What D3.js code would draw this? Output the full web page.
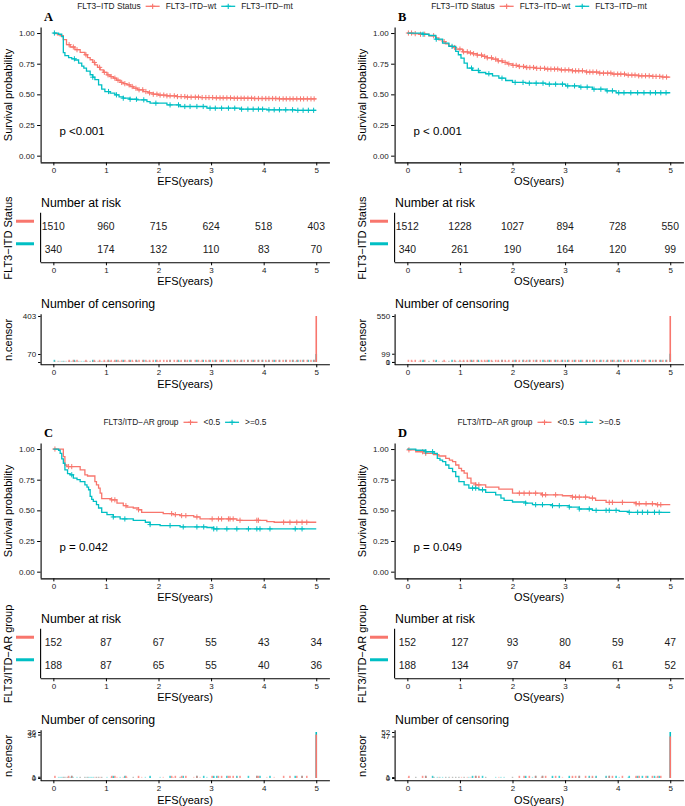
<!DOCTYPE html>
<html><head><meta charset="utf-8">
<script src="https://cdn.jsdelivr.net/npm/d3@7"></script>
<style>
body{margin:0;background:#fff}
text{font-family:"Liberation Sans",Arial,sans-serif}
</style>
</head><body>
<svg id="chart" width="685" height="806"></svg>
<script>
// ---------------- DATA ----------------
const years = [0, 1, 2, 3, 4, 5];
const survTicks = [0, 0.25, 0.5, 0.75, 1];
const groupColors = ["#F8766D", "#00BFC4"];

// Panel A : EFS by FLT3-ITD status
const efsWtTimes = [0.03,0.08,0.13,0.19,0.25,0.32,0.41,0.51,0.6,0.65,0.7,0.75,0.79,0.84,0.89,0.95,1.02,1.08,1.14,1.2,1.27,1.33,1.40,1.46,1.52,1.6,1.71,1.8,1.90,2.0,2.16,2.35,2.54,2.8,3.05,3.4,3.81,4.3];
const efsWtSurv  = [0.995,0.985,0.978,0.946,0.905,0.886,0.864,0.842,0.823,0.80,0.782,0.76,0.741,0.72,0.70,0.68,0.659,0.645,0.632,0.615,0.597,0.587,0.578,0.564,0.55,0.537,0.523,0.512,0.501,0.494,0.488,0.482,0.477,0.474,0.471,0.468,0.466,0.463];
const efsMtTimes = [0.1,0.16,0.19,0.22,0.29,0.35,0.41,0.48,0.54,0.58,0.63,0.70,0.75,0.79,0.86,0.92,0.98,1.08,1.17,1.25,1.33,1.45,1.59,1.78,1.84,2.16,2.41,2.92,3.55,4.06,4.6];
const efsMtSurv  = [0.99,0.97,0.84,0.815,0.80,0.79,0.78,0.755,0.73,0.714,0.69,0.66,0.64,0.62,0.578,0.542,0.523,0.51,0.496,0.48,0.469,0.46,0.455,0.441,0.428,0.414,0.401,0.387,0.379,0.374,0.370];
const efsWtCensor = [0.3,0.38,0.45,0.62,0.78,0.88,0.97,1.04,1.1,1.17,1.23,1.3,1.36,1.44,1.5,1.57,1.63,1.7,1.76,1.83,1.9,1.97,2.03,2.1,2.16,2.22,2.3,2.36,2.43,2.5,2.55,2.62,2.7,2.76,2.83,2.9,2.96,3.03,3.1,3.17,3.23,3.3,3.37,3.44,3.5,3.57,3.63,3.7,3.77,3.83,3.9,3.97,4.04,4.1,4.17,4.23,4.3,4.37,4.43,4.5,4.56,4.63,4.7,4.76,4.83,4.9,4.96];
const efsMtCensor = [0.02,0.4,0.75,1.05,1.2,1.33,1.46,1.58,1.72,1.95,2.22,2.38,2.5,2.6,2.73,2.85,2.98,3.08,3.2,3.33,3.45,3.58,3.7,3.8,3.9,3.98,4.1,4.2,4.3,4.42,4.55,4.65,4.75,4.85,4.95];
const efsWtRisk = [1510, 960, 715, 624, 518, 403];
const efsMtRisk = [340, 174, 132, 110, 83, 70];
const efsItdCensorTicks = [0, 70, 403];

// Panel B : OS by FLT3-ITD status
const osWtTimes = [0.1,0.22,0.41,0.54,0.6,0.67,0.73,0.79,0.86,0.92,1.05,1.15,1.24,1.33,1.43,1.52,1.62,1.72,1.81,1.9,2.0,2.12,2.25,2.45,2.63,2.9,3.14,3.4,3.65,3.9,4.16,4.4,4.66,4.85];
const osWtSurv  = [0.995,0.99,0.978,0.96,0.945,0.93,0.912,0.896,0.882,0.869,0.847,0.838,0.831,0.82,0.809,0.798,0.787,0.773,0.76,0.748,0.736,0.727,0.719,0.712,0.706,0.699,0.692,0.682,0.673,0.665,0.657,0.651,0.646,0.641];
const osMtTimes = [0.29,0.41,0.54,0.67,0.79,0.92,0.97,1.02,1.08,1.14,1.24,1.36,1.49,1.62,1.74,1.87,2.0,2.25,2.63,3.01,3.27,3.52,3.78,3.97];
const osMtSurv  = [0.99,0.98,0.95,0.918,0.891,0.85,0.823,0.796,0.755,0.714,0.695,0.678,0.668,0.651,0.632,0.613,0.597,0.591,0.583,0.569,0.559,0.542,0.529,0.513];
const osWtCensor = [0.02,0.08,0.15,0.25,0.33,0.5,0.7,0.9,1.0,1.07,1.14,1.2,1.26,1.33,1.41,1.47,1.52,1.6,1.68,1.73,1.8,1.86,1.93,2.01,2.07,2.13,2.21,2.27,2.33,2.4,2.46,2.53,2.61,2.67,2.73,2.8,2.86,2.93,3.0,3.07,3.14,3.2,3.26,3.33,3.41,3.47,3.53,3.6,3.66,3.73,3.81,3.87,3.93,4.0,4.06,4.13,4.2,4.27,4.33,4.4,4.46,4.53,4.6,4.67,4.73,4.8,4.86,4.93];
const osMtCensor = [0.3,0.55,0.85,1.22,1.35,1.55,1.8,2.05,2.2,2.32,2.45,2.58,2.7,2.82,2.95,3.05,3.18,3.3,3.42,3.55,3.68,3.8,3.9,4.02,4.12,4.25,4.38,4.5,4.62,4.72,4.82,4.92];
const osWtRisk = [1512, 1228, 1027, 894, 728, 550];
const osMtRisk = [340, 261, 190, 164, 120, 99];
const osItdCensorTicks = [0, 1, 99, 550];

// Panel C : EFS by FLT3/ITD-AR group
const efsLowTimes = [0.19,0.22,0.26,0.51,0.60,0.65,0.79,0.82,0.86,0.89,0.92,1.1,1.21,1.33,1.40,1.52,1.62,1.68,2.09,2.28,2.41,2.67,2.79,3.49,4.06,4.2];
const efsLowSurv  = [0.938,0.87,0.857,0.83,0.789,0.78,0.735,0.708,0.681,0.641,0.595,0.586,0.559,0.538,0.527,0.519,0.505,0.484,0.473,0.465,0.457,0.446,0.43,0.419,0.408,0.403];
const efsHighTimes = [0.1,0.13,0.16,0.19,0.22,0.27,0.32,0.38,0.45,0.51,0.6,0.64,0.67,0.70,0.73,0.76,0.82,0.86,0.92,1.02,1.14,1.27,1.52,1.75,1.84,2.03,2.41,2.92,3.05];
const efsHighSurv  = [0.99,0.965,0.92,0.884,0.83,0.80,0.79,0.762,0.75,0.735,0.708,0.69,0.668,0.614,0.59,0.573,0.546,0.519,0.484,0.465,0.446,0.43,0.419,0.403,0.384,0.376,0.365,0.36,0.349];
const efsLowCensor = [0.03,0.29,0.35,1.11,1.17,1.38,1.62,2.25,2.32,2.44,2.52,2.73,3.02,3.14,3.2,3.33,3.36,3.42,3.55,3.87,3.9,4.38,4.5,4.63,4.73,4.82];
const efsHighCensor = [0.35,1.14,1.36,1.84,2.22,2.47,2.73,2.86,3.05,3.11,3.3,3.49,3.71,3.87,3.93,4.12,4.6,4.73];
const efsLowRisk = [152, 87, 67, 55, 43, 34];
const efsHighRisk = [188, 87, 65, 55, 40, 36];
const efsArCensorTicks = [0, 1, 34, 36];

// Panel D : OS by FLT3/ITD-AR group
const osLowTimes = [0.02,0.16,0.35,0.5,0.6,0.73,0.8,0.86,0.92,0.98,1.03,1.08,1.14,1.21,1.3,1.49,1.74,2.0,2.55,2.95,3.14,3.46,3.58,3.78,4.35,4.73];
const osLowSurv  = [0.993,0.978,0.965,0.955,0.943,0.924,0.91,0.897,0.87,0.843,0.823,0.803,0.762,0.722,0.708,0.689,0.673,0.64,0.627,0.619,0.608,0.6,0.581,0.565,0.554,0.546];
const osHighTimes = [0.16,0.35,0.51,0.57,0.62,0.67,0.73,0.79,0.86,0.92,0.98,1.08,1.17,1.36,1.49,1.68,1.78,1.84,2.0,2.25,2.38,2.76,3.08,3.27,3.52,4.03,4.2];
const osHighSurv  = [0.99,0.978,0.965,0.924,0.91,0.897,0.87,0.843,0.816,0.776,0.735,0.708,0.681,0.668,0.646,0.627,0.6,0.581,0.568,0.559,0.546,0.538,0.527,0.511,0.5,0.492,0.484];
const osLowCensor = [0.03,0.29,0.35,1.3,1.36,2.13,2.22,2.32,2.44,2.57,2.63,2.82,3.14,3.2,3.27,3.39,3.52,3.84,3.9,4.09,4.35,4.41,4.54,4.66,4.76,4.82];
const osHighCensor = [0.35,0.48,1.24,1.3,1.43,2.25,2.44,2.57,2.76,2.89,3.08,3.27,3.46,3.59,3.78,3.84,3.97,4.22,4.38,4.47,4.57,4.7,4.79];
const osLowRisk = [152, 127, 93, 80, 59, 47];
const osHighRisk = [188, 134, 97, 84, 61, 52];
const osArCensorTicks = [0, 1, 47, 52];

// ---------------- PANELS ----------------
const panels = [
  {ox:0, oy:0, letter:"A", legendTitle:"FLT3−ITD Status", groups:["FLT3−ITD−wt","FLT3−ITD−mt"],
   xTitle:"EFS(years)", strata:"FLT3−ITD Status", pText:"p <0.001",
   times:[efsWtTimes,efsMtTimes], surv:[efsWtSurv,efsMtSurv], censor:[efsWtCensor,efsMtCensor],
   risk:[efsWtRisk,efsMtRisk], cTicks:efsItdCensorTicks, hideSmall:true},
  {ox:354, oy:0, letter:"B", legendTitle:"FLT3−ITD Status", groups:["FLT3−ITD−wt","FLT3−ITD−mt"],
   xTitle:"OS(years)", strata:"FLT3−ITD Status", pText:"p < 0.001",
   times:[osWtTimes,osMtTimes], surv:[osWtSurv,osMtSurv], censor:[osWtCensor,osMtCensor],
   risk:[osWtRisk,osMtRisk], cTicks:osItdCensorTicks},
  {ox:0, oy:416, letter:"C", legendTitle:"FLT3/ITD−AR group", groups:["<0.5",">=0.5"],
   xTitle:"EFS(years)", strata:"FLT3/ITD−AR group", pText:"p = 0.042",
   times:[efsLowTimes,efsHighTimes], surv:[efsLowSurv,efsHighSurv], censor:[efsLowCensor,efsHighCensor],
   risk:[efsLowRisk,efsHighRisk], cTicks:efsArCensorTicks},
  {ox:354, oy:416, letter:"D", legendTitle:"FLT3/ITD−AR group", groups:["<0.5",">=0.5"],
   xTitle:"OS(years)", strata:"FLT3/ITD−AR group", pText:"p = 0.049",
   times:[osLowTimes,osHighTimes], surv:[osLowSurv,osHighSurv], censor:[osLowCensor,osHighCensor],
   risk:[osLowRisk,osHighRisk], cTicks:osArCensorTicks}
];

const svg = d3.select("#chart");
const plusPath = "M-2.6,0H2.6M0,-2.6V2.6";
const TICK_FONT = "8px";

function survAt(T, S, t) {
  let s = 1;
  for (let i = 0; i < T.length; i++) if (T[i] <= t) s = S[i];
  return s;
}

function styleAxis(a, fs) {
  a.selectAll(".domain").attr("stroke", "#000").attr("stroke-width", 1.1);
  a.selectAll(".tick line").attr("stroke", "#000").attr("stroke-width", 1);
  a.selectAll(".tick text").attr("fill", "#1a1a1a")
    .style("font-family", '"Liberation Sans",Arial,sans-serif').style("font-size", fs || TICK_FONT);
}

function drawPanel(p) {
  const g = svg.append("g").attr("transform", `translate(${p.ox},${p.oy})`);
  const x = d3.scaleLinear().domain([-0.25, 5.25]).range([40.2, 329.4]);
  const y = d3.scaleLinear().domain([-0.05, 1.05]).range([161.8, 26.9]);
  const yearFmt = d3.format("d");

  // panel letter
  g.append("text").attr("x", 44).attr("y", 21)
    .style("font-family", '"Liberation Serif","Times New Roman",serif')
    .style("font-weight", "bold").style("font-size", "12.5px").text(p.letter);

  // legend (centered above the plot)
  const lg = g.append("g");
  const t0 = lg.append("text").attr("x", 0).style("font-size", "8.4px").attr("fill", "#1a1a1a").text(p.legendTitle);
  let cx = t0.node().getComputedTextLength() + 5;
  p.groups.forEach((name, i) => {
    const key = lg.append("g").attr("transform", `translate(${cx},-3)`);
    key.append("line").attr("x1", 0).attr("x2", 14).attr("stroke", groupColors[i]).attr("stroke-width", 1.3);
    key.append("path").attr("d", plusPath).attr("transform", "translate(7,0)").attr("stroke", groupColors[i]).attr("stroke-width", 1.1);
    cx += 14 + 6;
    const tx = lg.append("text").attr("x", cx).style("font-size", "8.4px").attr("fill", "#1a1a1a").text(name);
    cx += tx.node().getComputedTextLength() + 5;
  });
  const totalW = cx - 5;
  lg.attr("transform", `translate(${185 - totalW / 2},9.3)`);

  // ---- main KM plot ----
  const line = d3.line().x(d => x(d[0])).y(d => y(d[1])).curve(d3.curveStepAfter);
  p.times.forEach((T, gi) => {
    const S = p.surv[gi];
    const pts = [[0, 1]].concat(T.map((t, i) => [t, S[i]]));
    pts.push([5, S[S.length - 1]]);
    g.append("path").attr("d", line(pts)).attr("fill", "none")
      .attr("stroke", groupColors[gi]).attr("stroke-width", 1.3);
    g.append("g").selectAll("path").data(p.censor[gi]).join("path")
      .attr("d", plusPath)
      .attr("transform", t => `translate(${x(t)},${y(survAt(T, S, t))})`)
      .attr("stroke", groupColors[gi]).attr("stroke-width", 1).attr("fill", "none");
  });

  const xa = g.append("g").attr("transform", "translate(0,162.4)")
    .call(d3.axisBottom(x).tickValues(years).tickFormat(yearFmt).tickSize(3).tickSizeOuter(0).tickPadding(1.8));
  styleAxis(xa);
  const ya = g.append("g").attr("transform", "translate(40.6,0)")
    .call(d3.axisLeft(y).tickValues(survTicks).tickFormat(d3.format(".2f")).tickSize(3.5).tickSizeOuter(0).tickPadding(2.5));
  styleAxis(ya);

  g.append("text").attr("x", 185).attr("y", 184.8).attr("text-anchor", "middle")
    .style("font-size", "11px").text(p.xTitle);
  g.append("text").attr("transform", "translate(11.5,95) rotate(-90)").attr("text-anchor", "middle")
    .style("font-size", "11px").text("Survival probability");
  g.append("text").attr("x", 59.5).attr("y", 134.5).style("font-size", "11.5px").text(p.pText);

  // ---- risk table ----
  g.append("text").attr("x", 41).attr("y", 206.5).style("font-size", "12.3px").text("Number at risk");
  const ry = d3.scalePoint().domain([0, 1]).range([212.7, 262.3]).padding(0.6);
  p.risk.forEach((arr, gi) => {
    g.append("g").selectAll("text").data(arr).join("text")
      .attr("x", (d, i) => x(years[i])).attr("y", ry(gi)).attr("dy", "0.36em")
      .attr("text-anchor", "middle").style("font-size", "10.4px").attr("fill", "#1a1a1a")
      .text(d => d);
    g.append("rect").attr("x", 16).attr("y", ry(gi) - 6.5).attr("width", 18).attr("height", 3)
      .attr("fill", groupColors[gi]);
  });
  g.append("line").attr("x1", 40.6).attr("x2", 40.6).attr("y1", 212.7).attr("y2", 262.3)
    .attr("stroke", "#000").attr("stroke-width", 1.1);
  const rxa = g.append("g").attr("transform", "translate(0,262.3)")
    .call(d3.axisBottom(x).tickValues(years).tickFormat(yearFmt).tickSize(3).tickSizeOuter(0).tickPadding(1.8));
  styleAxis(rxa);
  g.append("text").attr("x", 185).attr("y", 285.3).attr("text-anchor", "middle")
    .style("font-size", "11px").text(p.xTitle);
  g.append("text").attr("transform", "translate(11.5,238) rotate(-90)").attr("text-anchor", "middle")
    .style("font-size", "11px").text(p.strata);

  // ---- censoring plot ----
  g.append("text").attr("x", 41).attr("y", 307.5).style("font-size", "12.3px").text("Number of censoring");
  const cmax = d3.max(p.cTicks);
  const cy = d3.scaleLinear().domain([-0.05 * cmax, 1.05 * cmax]).range([364.3, 313.7]);
  [1, 0].forEach(gi => {
    const col = groupColors[gi];
    // zero-count time points (event times) drawn as faint stubs
    g.append("g").selectAll("rect").data(p.times[gi]).join("rect")
      .attr("x", t => x(t) - 0.7).attr("width", 1.4)
      .attr("y", cy(0) - 1.2).attr("height", 1.2)
      .attr("fill", col).attr("opacity", 0.35);
    const bars = p.censor[gi].map(t => ({t: t, n: 1}));
    bars.push({t: 5, n: p.risk[gi][5]});
    g.append("g").selectAll("rect").data(bars).join("rect")
      .attr("x", d => x(d.t) - 0.8).attr("width", 1.6)
      .attr("y", d => Math.min(cy(d.n), cy(0) - 2.2))
      .attr("height", d => Math.max(cy(0) - cy(d.n), 2.2))
      .attr("fill", col).attr("opacity", d => d.t === 5 ? 1 : 0.75);
  });
  const cxa = g.append("g").attr("transform", "translate(0,364.3)")
    .call(d3.axisBottom(x).tickValues(years).tickFormat(yearFmt).tickSize(3).tickSizeOuter(0).tickPadding(1.8));
  styleAxis(cxa);
  const cya = g.append("g").attr("transform", "translate(40.6,0)")
    .call(d3.axisLeft(cy).tickValues(p.cTicks).tickSize(2.5).tickSizeOuter(0).tickPadding(2)
      .tickFormat(d => (p.hideSmall && d < 2) ? "" : d));
  styleAxis(cya);
  g.append("text").attr("x", 185).attr("y", 387.8).attr("text-anchor", "middle")
    .style("font-size", "11px").text(p.xTitle);
  g.append("text").attr("transform", "translate(11.5,340) rotate(-90)").attr("text-anchor", "middle")
    .style("font-size", "11px").text("n.censor");
}

panels.forEach(drawPanel);
</script>
</body></html>
